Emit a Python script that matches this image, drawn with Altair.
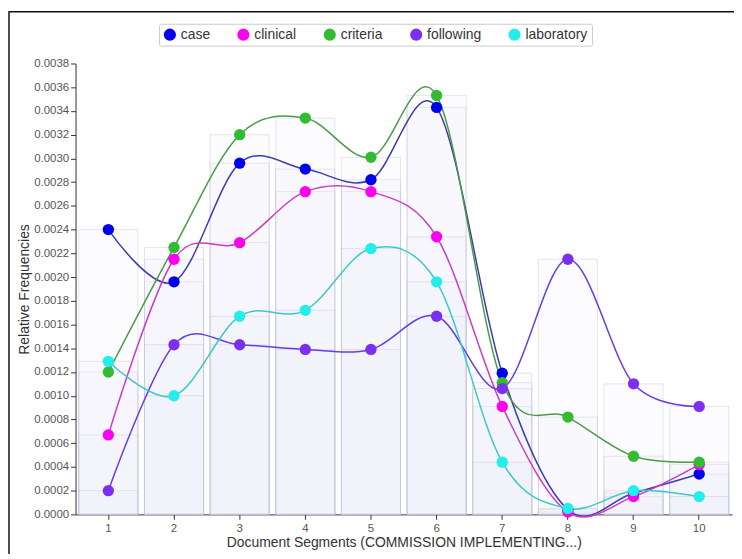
import altair as alt
import pandas as pd

segments = [1, 2, 3, 4, 5, 6, 7, 8, 9, 10]
series_names = ["case", "clinical", "criteria", "following", "laboratory"]

case = [0.00240, 0.00196, 0.00296, 0.00291, 0.00282, 0.00343, 0.00119, 0.00004, 0.00018, 0.00034]
clinical = [0.00067, 0.00215, 0.00229, 0.00272, 0.00272, 0.00234, 0.00091, 0.00002, 0.00015, 0.00042]
criteria = [0.00120, 0.00225, 0.00320, 0.00334, 0.00301, 0.00353, 0.00111, 0.00082, 0.00049, 0.00044]
following = [0.00020, 0.00143, 0.00143, 0.00139, 0.00139, 0.00167, 0.00106, 0.00215, 0.00110, 0.00091]
laboratory = [0.00129, 0.00100, 0.00167, 0.00172, 0.00224, 0.00196, 0.00044, 0.00005, 0.00020, 0.00015]

y_ticks = [round(i * 0.0002, 4) for i in range(20)]

point_colors = ["#0000ee", "#ff00ee", "#33bb33", "#7a30ee", "#22eeee"]
line_colors = ["#3c3cb0", "#c83cc8", "#4a9a4a", "#6a3ce0", "#3cc8c8"]

rows = []
for name, vals in zip(series_names, [case, clinical, criteria, following, laboratory]):
    for s, v in zip(segments, vals):
        rows.append({"segment": s, "series": name, "value": v})
df = pd.DataFrame(rows)

x_enc = alt.X(
    "segment:O",
    sort=segments,
    scale=alt.Scale(paddingInner=0.1, paddingOuter=0.05),
    axis=alt.Axis(title="Document Segments (COMMISSION IMPLEMENTING...)", labelAngle=0),
)
y_enc = alt.Y(
    "value:Q",
    stack=None,
    scale=alt.Scale(domain=[0, 0.0038], nice=False),
    axis=alt.Axis(title="Relative Frequencies", values=y_ticks, format=".4f"),
)
color_pts = alt.Color(
    "series:N",
    sort=series_names,
    scale=alt.Scale(domain=series_names, range=point_colors),
    legend=alt.Legend(
        title=None,
        orient="none",
        legendX=84,
        legendY=-40,
        direction="horizontal",
        symbolType="circle",
        symbolSize=150,
        symbolStrokeWidth=0,
        symbolOpacity=1,
        labelFontSize=14,
        labelColor="#333333",
        labelFont="Liberation Sans",
        strokeColor="#cccccc",
        padding=4,
        columnPadding=26,
        cornerRadius=2,
    ),
)

bars = alt.Chart(df).mark_bar(
    fill="#e4e4f4", fillOpacity=0.13, stroke="#c0c0da", strokeOpacity=0.4, strokeWidth=1
).encode(x=x_enc, y=y_enc, detail="series:N")

lines = alt.Chart(df).mark_line(interpolate="cardinal", strokeWidth=1.5).encode(
    x=x_enc,
    y=y_enc,
    color=alt.Color("series:N", scale=alt.Scale(domain=series_names, range=line_colors), legend=None),
)

points = alt.Chart(df).mark_point(filled=True, size=130, opacity=1, strokeWidth=0).encode(
    x=x_enc, y=y_enc, color=color_pts
)

frame = alt.Chart(pd.DataFrame({"k": [0]})).mark_rect(
    filled=False, stroke="#111111", strokeWidth=1.5, clip=False
).encode(x=alt.value(-67), x2=alt.value(700), y=alt.value(-52), y2=alt.value(520))

chart = (
    alt.layer(bars, lines, points, frame)
    .resolve_scale(color="independent")
    .properties(
        width=661,
        height=454,
        autosize=alt.AutoSizeParams(type="none"),
        padding={"left": 68, "top": 54, "right": 2, "bottom": 38},
    )
    .configure_view(stroke=None)
    .configure_axis(
        grid=False,
        labelFont="Liberation Sans",
        titleFont="Liberation Sans",
        labelFontSize=11.5,
        labelColor="#555555",
        titleFontSize=14,
        titleFontWeight="normal",
        titleColor="#333333",
        domainColor="#333333",
        tickColor="#333333",
        tickSize=5,
    )
    .configure_axisY(titlePadding=2, labelPadding=2)
    .configure_axisX(titlePadding=2, labelPadding=3)
)

chart.save("out.html", embed_options={"renderer": "svg", "actions": False})
